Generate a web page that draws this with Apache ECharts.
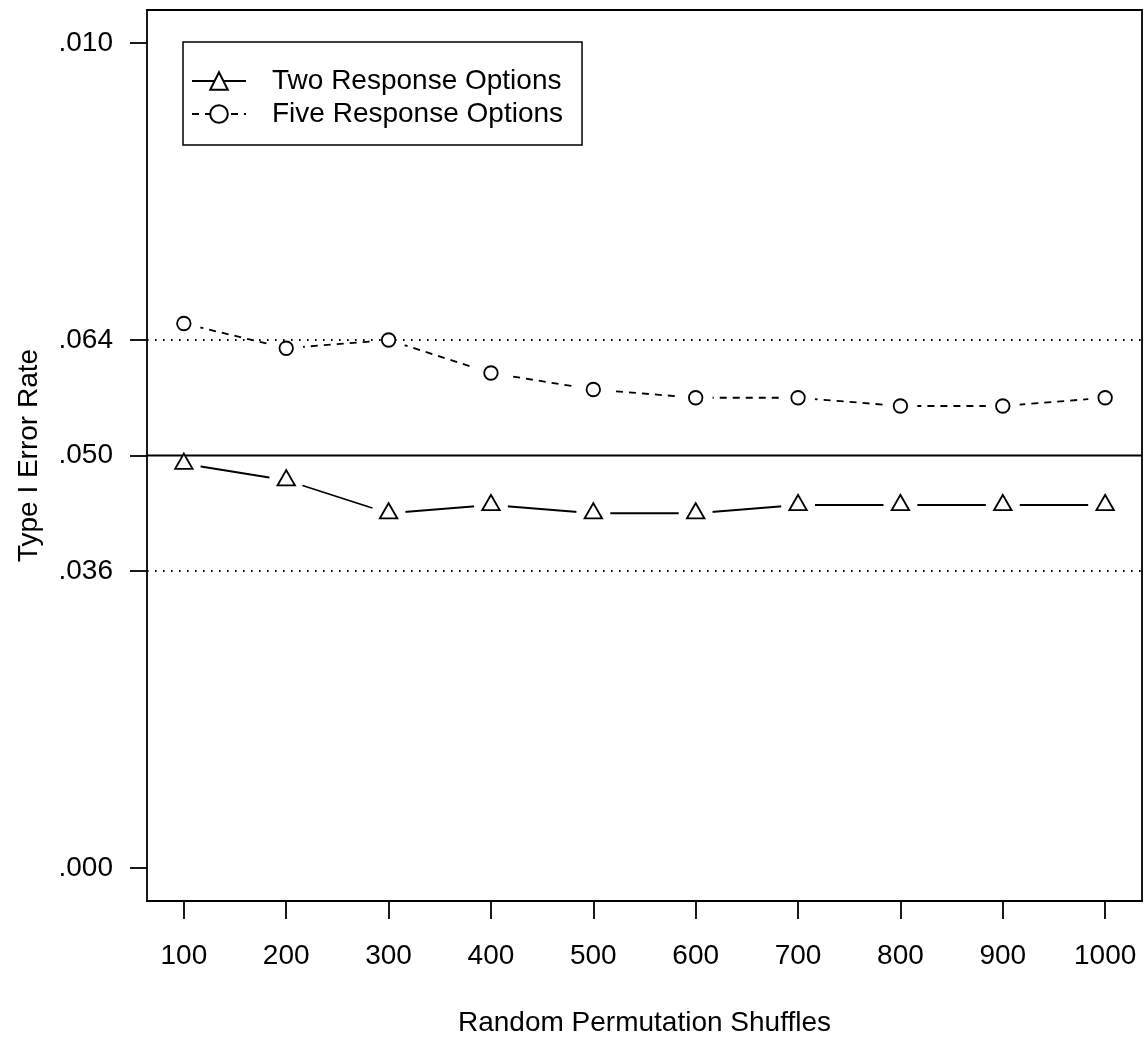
<!DOCTYPE html>
<html>
<head>
<meta charset="utf-8">
<script src="https://cdn.jsdelivr.net/npm/echarts@6/dist/echarts.min.js"></script>
<style>
  html, body { margin: 0; padding: 0; background: #fff; }
  #chart { width: 1144px; height: 1040px; }
</style>
</head>
<body>
<div id="chart"></div>
<script>
// Type I error rate by number of random permutation shuffles
const shuffles = [100, 200, 300, 400, 500, 600, 700, 800, 900, 1000];
const twoOptions = [0.049, 0.047, 0.043, 0.044, 0.043, 0.043, 0.044, 0.044, 0.044, 0.044];
const fiveOptions = [0.066, 0.063, 0.064, 0.060, 0.058, 0.057, 0.057, 0.056, 0.056, 0.057];

const seriesNames = ['Two Response Options', 'Five Response Options'];

// y-axis ticks and their printed labels
const yTickValues = [0, 0.036, 0.05, 0.064, 0.1];
const yTickLabels = ['.000', '.036', '.050', '.064', '.010'];

// reference levels: nominal alpha and its bounds
const nominalLevel = 0.05;
const boundLevels = [0.036, 0.064];

// axis limits (4% padding beyond the data range, as in base R plots)
const X_MIN = 64, X_MAX = 1036;
const Y_MIN = -0.004, Y_MAX = 0.104;

const FONT = 'Liberation Sans, Arial, Helvetica, sans-serif';
const FS = 28;
const LW = 1.8;

const pairs = (ys) => shuffles.map((x, i) => [x, ys[i]]);
const hline = (v) => [[X_MIN, v], [X_MAX, v]];

const chart = echarts.init(document.getElementById('chart'), null, { renderer: 'canvas' });

const refSeries = [
  { level: nominalLevel, type: 'solid' },
  ...boundLevels.map((v) => ({ level: v, type: [1.6, 6.4] }))
].map((r, i) => ({
  name: 'reference-' + i, type: 'line', z: 4, silent: true,
  data: hline(r.level), showSymbol: false, symbol: 'none',
  lineStyle: { color: '#000', width: LW, type: r.type }
}));

chart.setOption({
  animation: false,
  backgroundColor: '#fff',
  textStyle: { fontFamily: FONT, color: '#000' },
  grid: {
    left: 147, right: 2, top: 10, bottom: 139,
    containLabel: false,
    outerBoundsMode: 'none',
    show: true,
    borderColor: '#000',
    borderWidth: LW,
    backgroundColor: 'transparent'
  },
  legend: {
    data: seriesNames,
    orient: 'vertical',
    left: 183,
    top: 42,
    padding: [25, 19, 17, 8],
    itemWidth: 54,
    itemHeight: 22,
    itemGap: 5,
    borderColor: '#000',
    borderWidth: 1.5,
    selectedMode: false,
    textStyle: { fontFamily: FONT, fontSize: FS, color: '#000', padding: [0, 0, 0, 21] }
  },
  xAxis: {
    type: 'value',
    min: X_MIN,
    max: X_MAX,
    name: 'Random Permutation Shuffles',
    nameLocation: 'middle',
    nameGap: 108,
    nameTextStyle: { fontFamily: FONT, fontSize: FS, color: '#000' },
    axisLine: { show: false, onZero: false },
    splitLine: { show: false },
    axisTick: { show: true, length: 18, customValues: shuffles, lineStyle: { color: '#000', width: LW } },
    axisLabel: {
      customValues: shuffles,
      margin: 41,
      fontFamily: FONT, fontSize: FS, color: '#000',
      formatter: (v) => String(v)
    }
  },
  yAxis: {
    type: 'value',
    min: Y_MIN,
    max: Y_MAX,
    name: 'Type I Error Rate',
    nameLocation: 'middle',
    nameGap: 104,
    nameTextStyle: { fontFamily: FONT, fontSize: FS, color: '#000' },
    axisLine: { show: false, onZero: false },
    splitLine: { show: false },
    axisTick: { show: true, length: 17, customValues: yTickValues, lineStyle: { color: '#000', width: LW } },
    axisLabel: {
      customValues: yTickValues,
      margin: 34,
      fontFamily: FONT, fontSize: FS, color: '#000',
      formatter: (v) => {
        const i = yTickValues.findIndex((t) => Math.abs(t - v) < 1e-9);
        return i >= 0 ? yTickLabels[i] : '';
      }
    }
  },
  series: [
    // connecting lines (legend icons come from these)
    {
      name: seriesNames[0], type: 'line', z: 2,
      data: pairs(twoOptions),
      symbol: 'emptyTriangle', showSymbol: false,
      color: '#000',
      lineStyle: { color: '#000', width: LW, type: 'solid' },
      silent: true
    },
    {
      name: seriesNames[1], type: 'line', z: 2,
      data: pairs(fiveOptions),
      symbol: 'emptyCircle', showSymbol: false,
      color: '#000',
      lineStyle: { color: '#000', width: LW, type: [7, 6] },
      silent: true
    },
    // white discs leave a gap in the lines around each point
    {
      name: 'gap-two', type: 'scatter', z: 3, silent: true,
      data: pairs(twoOptions), symbol: 'circle', symbolSize: 34,
      itemStyle: { color: '#fff', opacity: 1 }
    },
    {
      name: 'gap-five', type: 'scatter', z: 3, silent: true,
      data: pairs(fiveOptions), symbol: 'circle', symbolSize: 34,
      itemStyle: { color: '#fff', opacity: 1 }
    },
    // horizontal reference lines across the plot region
    ...refSeries,
    // point markers
    {
      name: 'points-two', type: 'scatter', z: 6, silent: true,
      data: pairs(twoOptions), symbol: 'triangle', symbolSize: [17.5, 15.2],
      symbolOffset: [0, -2.5],
      itemStyle: { color: '#fff', borderColor: '#000', borderWidth: LW, opacity: 1 }
    },
    {
      name: 'points-five', type: 'scatter', z: 6, silent: true,
      data: pairs(fiveOptions), symbol: 'circle', symbolSize: 13.5,
      itemStyle: { color: '#fff', borderColor: '#000', borderWidth: LW, opacity: 1 }
    }
  ]
});
</script>
</body>
</html>
